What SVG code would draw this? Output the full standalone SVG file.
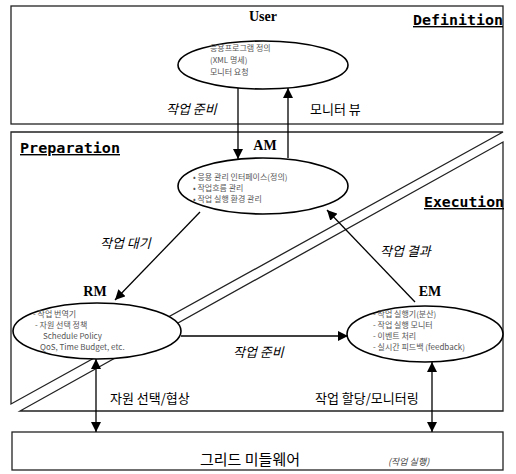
<svg xmlns="http://www.w3.org/2000/svg" width="516" height="474" viewBox="0 0 516 474">
  <style>
    .frame { fill: none; stroke: #222; stroke-width: 1.3; }
    .node { fill: #fff; stroke: #000; stroke-width: 1.6; }
    .edge { fill: none; stroke: #000; stroke-width: 1.3; }
    .title { font-family: "Liberation Serif", "Times New Roman", serif; font-weight: bold; font-size: 14px; fill: #000; }
    .phase { font-family: "DejaVu Sans Mono", "Liberation Mono", monospace; font-weight: bold; font-size: 14px; fill: #000; text-decoration: underline; }
    .label { font-family: "Noto Sans CJK KR", "Liberation Sans", sans-serif; font-size: 13px; fill: #000; }
    .italic { font-style: italic; }
    .big { font-size: 15px; }
    .note { font-size: 9px; fill: #444; }
    .small { font-family: "Noto Sans CJK KR", "Liberation Sans", sans-serif; font-size: 8px; fill: #555; }
  </style>
  <defs>
    <marker id="arrow" viewBox="0 0 10 10" refX="10" refY="5" markerWidth="10" markerHeight="10" markerUnits="userSpaceOnUse" orient="auto-start-reverse">
      <path d="M0,0 L10,5 L0,10 z" fill="#000"/>
    </marker>
  </defs>

  <rect width="516" height="474" fill="#fff"/>

  <!-- phase frames -->
  <g id="frames">
    <rect class="frame" x="11" y="6" width="492" height="118"/>
    <polygon class="frame" points="11,132 503,132 11,404"/>
    <polygon class="frame" points="503,142 503,411 20,411"/>
    <rect class="frame" x="12" y="432" width="491" height="38"/>
    <text class="phase" x="413" y="25" textLength="90" lengthAdjust="spacingAndGlyphs">Definition</text>
    <text class="phase" x="20" y="153" textLength="100" lengthAdjust="spacingAndGlyphs">Preparation</text>
    <text class="phase" x="424" y="207" textLength="80" lengthAdjust="spacingAndGlyphs">Execution</text>
  </g>

  <!-- connectors -->
  <g id="connectors">
    <line class="edge" x1="238" y1="88" x2="238" y2="159" marker-end="url(#arrow)"/>
    <line class="edge" x1="288" y1="158" x2="288" y2="88" marker-end="url(#arrow)"/>
    <line class="edge" x1="200" y1="212" x2="115" y2="300" marker-end="url(#arrow)"/>
    <line class="edge" x1="415" y1="302" x2="327" y2="210" marker-end="url(#arrow)"/>
    <line class="edge" x1="181" y1="336" x2="348" y2="336" marker-end="url(#arrow)"/>
    <line class="edge" x1="96" y1="359" x2="96" y2="432" marker-start="url(#arrow)" marker-end="url(#arrow)"/>
    <line class="edge" x1="432" y1="362" x2="432" y2="432" marker-start="url(#arrow)" marker-end="url(#arrow)"/>
    <text class="label italic" x="166" y="114">작업 준비</text>
    <text class="label" x="310" y="114">모니터 뷰</text>
    <text class="label italic" x="100" y="248">작업 대기</text>
    <text class="label italic" x="380" y="256">작업 결과</text>
    <text class="label italic" x="233" y="357">작업 준비</text>
    <text class="label" x="110" y="403">자원 선택/협상</text>
    <text class="label" x="315" y="403">작업 할당/모니터링</text>
  </g>

  <!-- User -->
  <g id="user">
    <text class="title" x="263" y="21" text-anchor="middle">User</text>
    <ellipse class="node" cx="263" cy="65" rx="85" ry="24"/>
    <text class="small" x="210" y="51">응용프로그램 정의</text>
    <text class="small" x="210" y="63">(XML 명세)</text>
    <text class="small" x="210" y="75">모니터 요청</text>
  </g>

  <!-- AM -->
  <g id="am">
    <text class="title" x="265" y="150" text-anchor="middle">AM</text>
    <ellipse class="node" cx="263" cy="186" rx="85" ry="28"/>
    <text class="small" x="193" y="180">• 응용 관리 인터페이스(정의)</text>
    <text class="small" x="193" y="191">• 작업흐름 관리</text>
    <text class="small" x="193" y="202">• 작업 실행 환경 관리</text>
  </g>

  <!-- RM -->
  <g id="rm">
    <text class="title" x="95" y="296" text-anchor="middle">RM</text>
    <ellipse class="node" cx="97" cy="331" rx="84" ry="28"/>
    <text class="small" x="33" y="317">- 작업 번역기</text>
    <text class="small" x="35" y="328">- 자원 선택 정책</text>
    <text class="small" x="43" y="339">Schedule Policy</text>
    <text class="small" x="40" y="350">QoS, Time Budget, etc.</text>
  </g>

  <!-- EM -->
  <g id="em">
    <text class="title" x="430" y="296" text-anchor="middle">EM</text>
    <ellipse class="node" cx="425" cy="334" rx="78" ry="28"/>
    <text class="small" x="373" y="317">- 작업 실행기(분산)</text>
    <text class="small" x="373" y="328">- 작업 실행 모니터</text>
    <text class="small" x="373" y="339">- 이벤트 처리</text>
    <text class="small" x="373" y="350">- 실시간 피드백 (feedback)</text>
  </g>

  <!-- Grid middleware -->
  <g id="grid">
    <text class="label big" x="250" y="465" text-anchor="middle">그리드 미들웨어</text>
    <text class="label italic note" x="388" y="465">(작업 실행)</text>
  </g>
</svg>
